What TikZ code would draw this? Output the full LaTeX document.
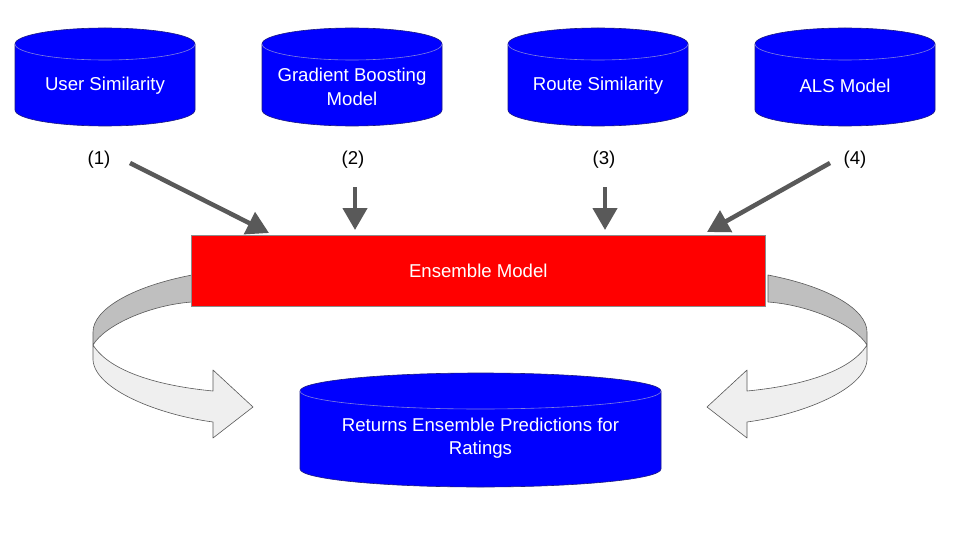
\documentclass[tikz,border=0pt]{standalone}
\usepackage{fontspec}
\setmainfont{Liberation Sans}
\usetikzlibrary{arrows.meta}
\definecolor{cylblue}{HTML}{0000FF}
\definecolor{cylline}{HTML}{1A1A80}
\definecolor{cyltop}{HTML}{8080E0}
\definecolor{arrgray}{HTML}{595959}
\definecolor{ribdark}{HTML}{BFBFBF}
\definecolor{riblight}{HTML}{EFEFEF}
\definecolor{ensred}{HTML}{FF0000}
\tikzset{
  lbl/.style={font=\fontsize{18.6}{23.5}\selectfont, text=black, inner sep=0pt},
  cyltext/.style={font=\fontsize{18.6}{23.5}\selectfont, text=white, align=center, inner sep=0pt},
  ensbox/.style={draw=black!45, line width=0.6pt, fill=ensred, text=white,
    font=\fontsize{18.6}{23.5}\selectfont, inner sep=0pt, anchor=north west,
    minimum width=574pt, minimum height=71pt},
  inarrow/.style={draw=arrgray, line width=4.5pt, -{Triangle[length=22pt,width=24pt]}},
  ribbon/.style={draw=arrgray, line width=0.6pt, line join=round},
}
% #1 cx, #2 rx, #3 top ellipse centre y, #4 bottom ellipse centre y, #5 ry
\newcommand\drawcyl[5]{%
  \fill[cylblue] ({#1-#2},#3) -- ({#1-#2},#4)
    arc[start angle=180,end angle=0,x radius=#2,y radius=#5]
    -- ({#1+#2},#3)
    arc[start angle=0,end angle=-180,x radius=#2,y radius=#5] -- cycle;
  \draw[cylline, line width=0.6pt] ({#1-#2},#3) -- ({#1-#2},#4)
    arc[start angle=180,end angle=0,x radius=#2,y radius=#5]
    -- ({#1+#2},#3)
    arc[start angle=0,end angle=-180,x radius=#2,y radius=#5] -- cycle;
  \draw[cyltop, line width=0.6pt] ({#1-#2},#3)
    arc[start angle=180,end angle=0,x radius=#2,y radius=#5];
}
\newcommand\drawribbon{%
  \filldraw[ribbon, fill=ribdark] (192,275) .. controls (130,287) and (93,310) .. (93,332)
    -- (93,345) .. controls (105,325) and (150,305) .. (192,302) -- cycle;
  \filldraw[ribbon, fill=riblight] (93,345) .. controls (110,372) and (160,386) .. (213,391)
    -- (213,370) -- (253,407) -- (213,438) -- (213,422)
    .. controls (160,415) and (95,390) .. (93,360) -- cycle;
}
\begin{document}
\begin{tikzpicture}[x=1pt,y=-1pt]
  \useasboundingbox (0,0) rectangle (960,540);
  \fill[white] (0,0) rectangle (960,540);

  % source cylinders
  \drawcyl{105}{90}{44}{110}{16}
  \node[cyltext] (usersim) at (105,86) {User Similarity};
  \drawcyl{352}{90}{44}{110}{16}
  \node[cyltext] (gbm) at (352,87) {Gradient Boosting\\Model};
  \drawcyl{598}{90}{44}{110}{16}
  \node[cyltext] (routesim) at (598,86) {Route Similarity};
  \drawcyl{845}{90}{44}{110}{16}
  \node[cyltext] (als) at (845,86) {ALS Model};

  % numbered labels
  \node[lbl] (l1) at (99,160) {(1)};
  \node[lbl] (l2) at (353,160) {(2)};
  \node[lbl] (l3) at (604,160) {(3)};
  \node[lbl] (l4) at (855,160) {(4)};

  % curved ribbons (behind the ensemble box)
  \drawribbon
  \begin{scope}[xshift=960pt, xscale=-1]
    \drawribbon
  \end{scope}

  % ensemble box
  \node[ensbox] (ens) at (191,235) {Ensemble Model};

  % result cylinder
  \drawcyl{480.5}{180.5}{391}{469}{18}
  \node[cyltext] (result) at (480.5,438) {Returns Ensemble Predictions for\\Ratings};

  % input arrows
  \coordinate (t1) at (130,163);
  \coordinate (h1) at (269,233);
  \coordinate (t2) at (355,187);
  \coordinate (h2) at (355,230);
  \coordinate (t3) at (605,187);
  \coordinate (h3) at (605,230);
  \coordinate (t4) at (830,163);
  \coordinate (h4) at (707,232);
  \draw[inarrow] (t1) -- (h1);
  \draw[inarrow] (t2) -- (h2);
  \draw[inarrow] (t3) -- (h3);
  \draw[inarrow] (t4) -- (h4);
\end{tikzpicture}
\end{document}
